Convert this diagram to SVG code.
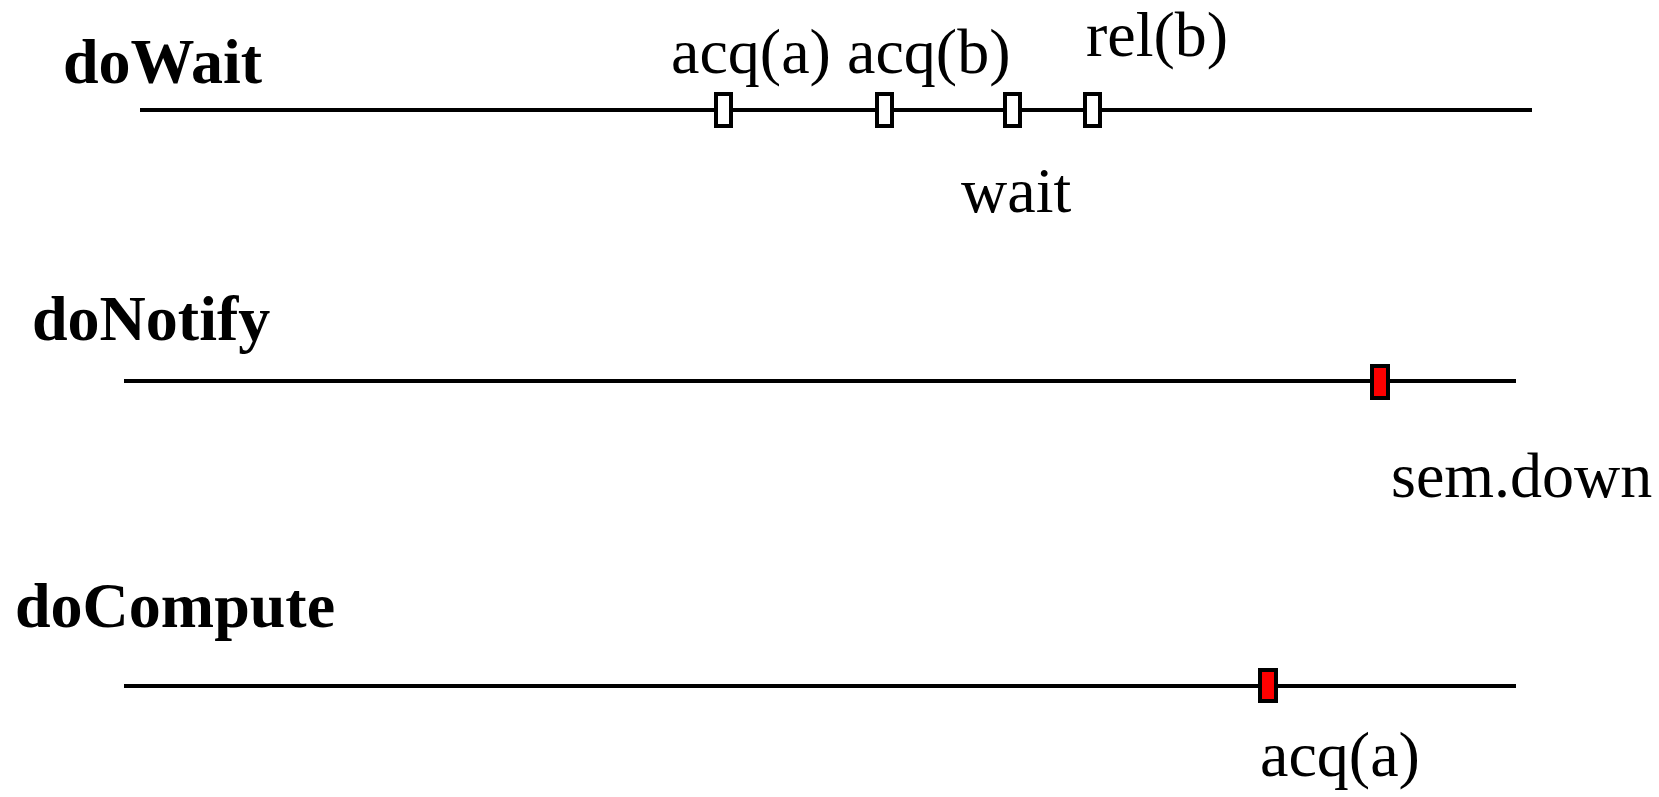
<svg xmlns="http://www.w3.org/2000/svg" width="1659" height="797" viewBox="0 0 1659 797">
<style>
.title{font-family:"Liberation Serif","Times New Roman",serif;font-weight:bold;font-size:64px;fill:#000}
.lbl{font-family:"Liberation Serif","Times New Roman",serif;font-size:64px;fill:#000}
.line{stroke:#000;stroke-width:4;fill:none}
.ev{fill:#fff;stroke:#000;stroke-width:4}
.evr{fill:#ff0000;stroke:#000;stroke-width:4}
</style>
<rect width="1659" height="797" fill="#fff"/>
<g id="connectors">
<line class="line" x1="140" y1="110" x2="1532" y2="110"/>
<line class="line" x1="124" y1="381" x2="1516" y2="381"/>
<line class="line" x1="124" y1="686" x2="1516" y2="686"/>
</g>
<g id="doWait">
<text class="title" x="63" y="83">doWait</text>
</g>
<g id="doWait-acq-a">
<rect class="ev" x="716" y="94" width="15" height="32"/>
<text class="lbl" x="671" y="73">acq(a)</text>
</g>
<g id="doWait-acq-b">
<rect class="ev" x="877" y="94" width="15" height="32"/>
<text class="lbl" x="847" y="73">acq(b)</text>
</g>
<g id="doWait-wait">
<rect class="ev" x="1005" y="94" width="15" height="32"/>
<text class="lbl" x="961" y="212">wait</text>
</g>
<g id="doWait-rel-b">
<rect class="ev" x="1085" y="94" width="15" height="32"/>
<text class="lbl" x="1086" y="56">rel(b)</text>
</g>
<g id="doNotify">
<text class="title" x="32" y="340">doNotify</text>
</g>
<g id="doNotify-sem-down">
<rect class="evr" x="1372" y="366" width="16" height="32"/>
<text class="lbl" x="1391" y="497">sem.down</text>
</g>
<g id="doCompute">
<text class="title" x="15" y="627">doCompute</text>
</g>
<g id="doCompute-acq-a">
<rect class="evr" x="1260" y="670" width="16" height="31"/>
<text class="lbl" x="1260" y="776">acq(a)</text>
</g>
</svg>
